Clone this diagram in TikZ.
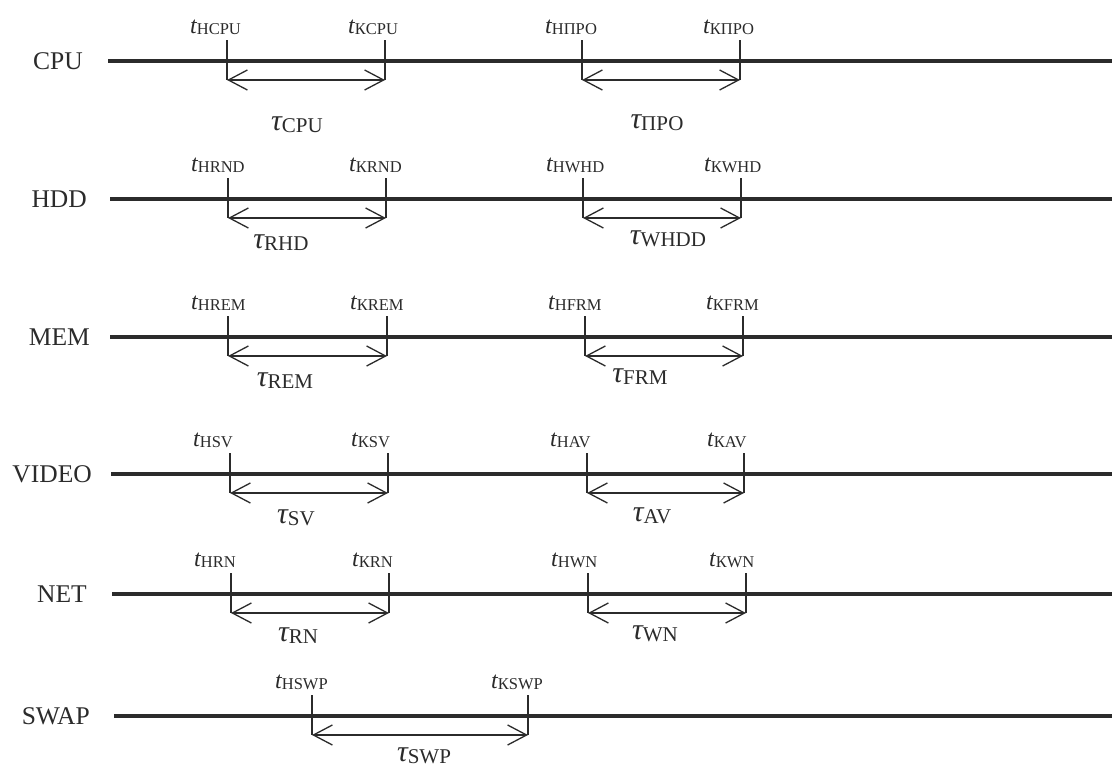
\documentclass[tikz,border=0pt]{standalone}
\usepackage{fontspec}
\setmainfont{Liberation Serif}
\usetikzlibrary{arrows.meta}
\definecolor{ink}{HTML}{2B2B2B}
\newcommand\tlab[1]{{\fontsize{24}{24}\selectfont\itshape t}\raisebox{-1.5pt}{\fontsize{16.5}{16.5}\selectfont #1}}
\newcommand\taulab[1]{{\fontsize{30}{30}\selectfont\itshape τ}\raisebox{-2pt}{\fontsize{21}{21}\selectfont #1}}
\newcommand\interval[9]{%
  \coordinate (#1a) at (#2,#4-21);
  \coordinate (#1b) at (#3,#4-21);
  \coordinate (#1c) at (#2,#4+19);
  \coordinate (#1d) at (#3,#4+19);
  \draw[tickline] (#1a) -- (#1c);
  \draw[tickline] (#1b) -- (#1d);
  \draw[spanarrow] (#1c) -- (#1d);
  \node[tl] (#1s) at (#2-37,#4-28) {\tlab{#5}};
  \node[tl] (#1e) at (#3-37,#4-28) {\tlab{#6}};
  \node[taul] (#1t) at (#8,#9) {\taulab{#7}};
}
\newcommand\timeline[5]{%
  \node[rowlabel] (#1) at (#5,#3) {#2};
  \coordinate (#1L) at (#4,#3);
  \coordinate (#1R) at (1112,#3);
  \draw[timelinestyle] (#1L) -- (#1R);
}
\begin{document}
\begin{tikzpicture}[x=1pt,y=-1pt,
  every node/.style={text=ink},
  rowlabel/.style={anchor=east, inner sep=0, font=\fontsize{25.5}{25.5}\selectfont, text height=17pt, text depth=0pt},
  timelinestyle/.style={draw=ink, line width=4pt},
  tickline/.style={draw=ink, line width=1.4pt},
  spanarrow/.style={draw=ink, line width=1.3pt, {Straight Barb[length=19pt,width=20pt,line width=1.3pt]}-{Straight Barb[length=19pt,width=20pt,line width=1.3pt]}},
  tl/.style={anchor=base west, inner sep=0},
  taul/.style={anchor=base, inner sep=0}]
\useasboundingbox (0,0) rectangle (1112,766);
\fill[white] (0,0) rectangle (1112,766);

\timeline{cpu}{CPU}{61}{108}{83}
\timeline{hdd}{HDD}{199}{110}{87}
\timeline{mem}{MEM}{337}{110}{90}
\timeline{video}{VIDEO}{474}{111}{92}
\timeline{net}{NET}{594}{112}{87}
\timeline{swap}{SWAP}{716}{114}{90}

\interval{i1}{227}{385}{61}{НCPU}{КCPU}{CPU}{297}{130}
\interval{i2}{582}{740}{61}{НПРО}{КПРО}{ПРО}{657}{128}
\interval{i3}{228}{386}{199}{НRND}{КRND}{RHD}{281}{248}
\interval{i4}{583}{741}{199}{НWHD}{КWHD}{WHDD}{668}{244}
\interval{i5}{228}{387}{337}{НREM}{КREM}{REM}{285}{386}
\interval{i6}{585}{743}{337}{НFRM}{КFRM}{FRM}{640}{382}
\interval{i7}{230}{388}{474}{НSV}{КSV}{SV}{296}{523}
\interval{i8}{587}{744}{474}{НAV}{КAV}{AV}{652}{521}
\interval{i9}{231}{389}{594}{НRN}{КRN}{RN}{298}{641}
\interval{i10}{588}{746}{594}{НWN}{КWN}{WN}{655}{639}
\interval{i11}{312}{528}{716}{НSWP}{КSWP}{SWP}{424}{761}
\end{tikzpicture}
\end{document}
